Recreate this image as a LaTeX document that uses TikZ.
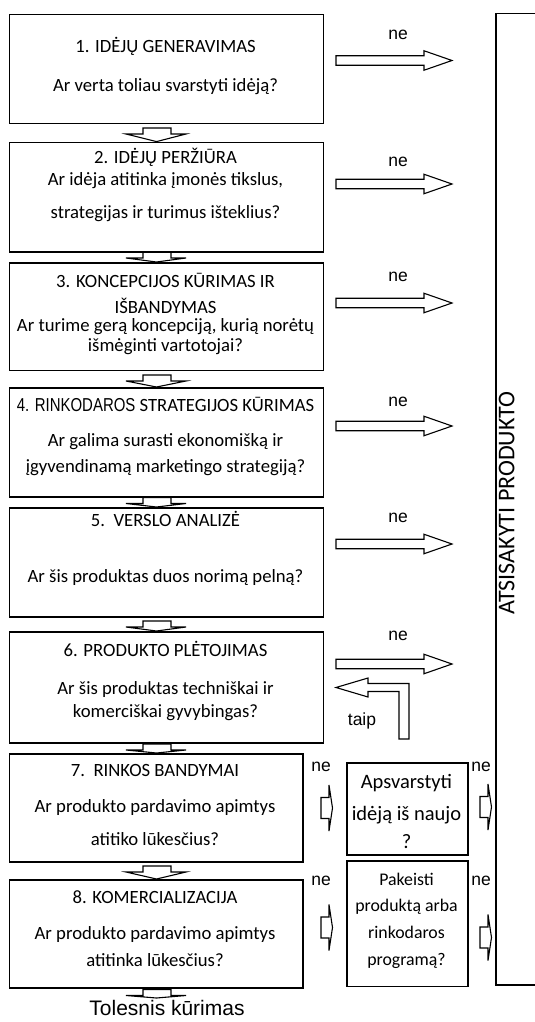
\documentclass[tikz,border=0pt]{standalone}
\usepackage{fontspec}
\setmainfont{Carlito}
\newfontfamily\arialf{Liberation Sans}
\usepackage{graphicx}
\newcommand\mkbox[5]{\node[box, anchor=north west, minimum width={(#4-#2)*1pt}, minimum height={(#5-#3)*1pt}] (#1) at (#2,#3) {};}
\newcommand\rarr[1]{\draw[blk] (336,#1-4.75) -- (424,#1-4.75) -- (424,#1-9.75) -- (452,#1) -- (424,#1+9.75) -- (424,#1+4.75) -- (336,#1+4.75) -- cycle;}
\newcommand\darr[2]{\draw[blk] (143,#1) -- (171,#1) -- (171,#1+6) -- (186,#1+6) -- (156.5,#2) -- (126,#1+6) -- (143,#1+6) -- cycle;}
\newcommand\sarr[2]{\draw[blk] (#1,#2-10.5) -- (#1+8,#2-10.5) -- (#1+8,#2-23) -- (#1+11.5,#2) -- (#1+8,#2+23) -- (#1+8,#2+10.5) -- (#1,#2+10.5) -- cycle;}
\begin{document}
\begin{tikzpicture}[x=1pt,y=-1pt,
  box/.style={draw, line width=1.5pt, inner sep=0pt},
  blk/.style={draw, line width=1.1pt, fill=white, line join=miter},
  txt/.style={font=\fontsize{18.7}{21}\selectfont, inner sep=0pt, anchor=mid},
  stxt/.style={font=\fontsize{17.8}{20}\selectfont, inner sep=0pt, anchor=mid},
  btxt/.style={font=\fontsize{20.5}{22}\selectfont, inner sep=0pt, anchor=mid},
  lbl/.style={font=\arialf\fontsize{17.5}{20}\selectfont, inner sep=0pt, anchor=mid}]
\clip (0,0) rectangle (535,1022);
\fill[white] (0,0) rectangle (535,1022);
% block arrows
\rarr{60.5}\rarr{184}\rarr{303}\rarr{426}\rarr{544}\rarr{664}
\darr{128}{141.6}
\darr{252}{262}
\darr{375}{387}
\darr{497.5}{507}
\darr{621}{631}
\darr{744}{753}
\darr{866}{879}
\darr{989.5}{998}
\sarr{321}{808}\sarr{321}{927.5}
\sarr{480}{807}\sarr{480}{937.5}
\draw[blk] (336,687.5) -- (368,678) -- (368,683.5) -- (409,683.5) -- (409,739) -- (399,739) -- (399,691.5) -- (368,691.5) -- (368,697) -- cycle;
% boxes
\mkbox{b1}{8.5}{14}{322.5}{123}
\mkbox{b2}{8.5}{141.6}{322.5}{251}
\mkbox{b3}{8.5}{262}{322.5}{369.5}
\mkbox{b4}{8.5}{387}{322.5}{496}
\mkbox{b5}{8.5}{507}{322.5}{616}
\mkbox{b6}{8.5}{631}{322.5}{742}
\mkbox{b7}{8.5}{753}{302}{861}
\mkbox{b8}{8.5}{879}{302}{987}
\mkbox{s1}{346}{762}{467}{854}
\mkbox{s2}{346}{860}{467}{985.5}
\mkbox{rb}{495}{13}{560}{984}
% texts
\node[txt] (t1a) at (165.5,50.5) {1. IDĖJŲ GENERAVIMAS};
\node[txt] (t1b) at (165.5,89.5) {Ar verta toliau svarstyti idėją?};
\node[txt] (t2a) at (165.5,161) {2. IDĖJŲ PERŽIŪRA};
\node[txt] (t2b) at (165.5,183) {Ar idėja atitinka įmonės tikslus,};
\node[txt] (t2c) at (165.5,216) {strategijas ir turimus išteklius?};
\node[txt] (t3a) at (165.5,285) {3. KONCEPCIJOS KŪRIMAS IR};
\node[txt] (t3b) at (165.5,311) {IŠBANDYMAS};
\node[txt] (t3c) at (165.5,329) {Ar turime gerą koncepciją, kurią norėtų};
\node[txt] (t3d) at (165.5,349) {išmėginti vartotojai?};
\node[txt] (t4a) at (165.5,409) {{\arialf\scalebox{0.8}[1]{4. RINKODAROS}} STRATEGIJOS KŪRIMAS};
\node[txt] (t4b) at (165.5,444) {Ar galima surasti ekonomišką ir};
\node[txt] (t4c) at (165.5,470) {įgyvendinamą marketingo strategiją?};
\node[txt] (t5a) at (165.5,524.5) {5.\ \ VERSLO ANALIZĖ};
\node[txt] (t5b) at (165.5,580) {Ar šis produktas duos norimą pelną?};
\node[txt] (t6a) at (165.5,654) {6. PRODUKTO PLĖTOJIMAS};
\node[txt] (t6b) at (165.5,692.5) {Ar šis produktas techniškai ir};
\node[txt] (t6c) at (165.5,715) {komerciškai gyvybingas?};
\node[txt] (t7a) at (155,774.5) {7.\ \ RINKOS BANDYMAI};
\node[txt] (t7b) at (155,810.5) {Ar produkto pardavimo apimtys};
\node[txt] (t7c) at (155,843.5) {atitiko lūkesčius?};
\node[txt] (t8a) at (155,901) {8. KOMERCIALIZACIJA};
\node[txt] (t8b) at (155,937) {Ar produkto pardavimo apimtys};
\node[txt] (t8c) at (155,964.5) {atitinka lūkesčius?};
\node[btxt] (s1a) at (406.5,786) {Apsvarstyti};
\node[btxt] (s1b) at (406.5,818.5) {idėją iš naujo};
\node[btxt] (s1c) at (406.5,846) {?};
\node[stxt] (s2a) at (406.5,883.5) {Pakeisti};
\node[stxt] (s2b) at (406.5,909) {produktą arba};
\node[stxt] (s2c) at (406.5,936) {rinkodaros};
\node[stxt] (s2d) at (406.5,963.5) {programą?};
\node[txt, font=\fontsize{24}{26}\selectfont, rotate=90] (atsi) at (512,503) {ATSISAKYTI PRODUKTO};
\foreach \yy [count=\i] in {37,164,279,404,520,638} {\node[lbl] (ne\i) at (398,\yy) {ne};}
\node[lbl] (nel1) at (321,769) {ne};
\node[lbl] (nel2) at (321,883) {ne};
\node[lbl] (ner1) at (481,769) {ne};
\node[lbl] (ner2) at (481,883) {ne};
\node[lbl] (taip) at (362,723) {taip};
\node[lbl, font=\arialf\fontsize{21}{24}\selectfont] (toles) at (167,1013.5) {Tolesnis kūrimas};
\end{tikzpicture}
\end{document}
